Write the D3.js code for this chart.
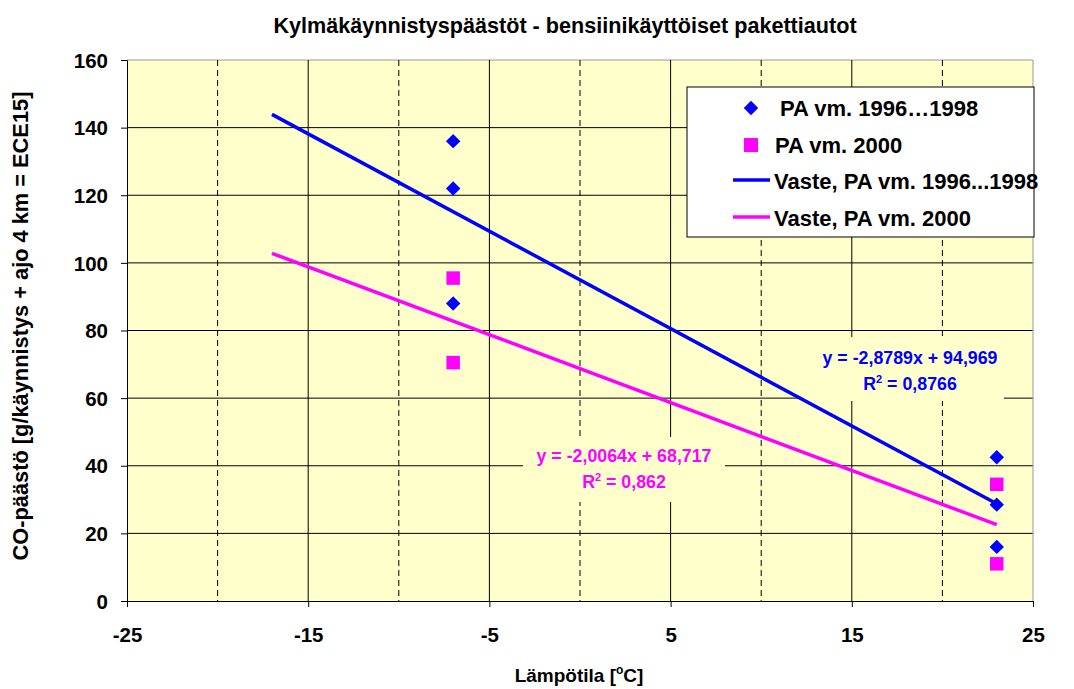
<!DOCTYPE html>
<html><head><meta charset="utf-8">
<script src="https://cdn.jsdelivr.net/npm/d3@7"></script>
<style>body{margin:0;background:#fff;} text{font-family:Arial,"Liberation Sans",sans-serif;font-weight:bold;}</style>
</head><body><svg id="c" width="1074" height="689"></svg>
<script>
const title = "Kylmäkäynnistyspäästöt - bensiinikäyttöiset pakettiautot";
const xTicks = [-25, -15, -5, 5, 15, 25];
const xMinor = [-20, -10, 0, 10, 20];
const yTicks = [0, 20, 40, 60, 80, 100, 120, 140, 160];
const seriesA_x = [-7, -7, -7, 23, 23, 23];
const seriesA_y = [136, 122, 88, 42.5, 28.5, 16];
const seriesB_x = [-7, -7, 23, 23];
const seriesB_y = [95.5, 70.5, 34.5, 11];
const fitA = {slope: -2.8789, intercept: 94.969, r2: "0,8766", eq: "y = -2,8789x + 94,969"};
const fitB = {slope: -2.0064, intercept: 68.717, r2: "0,862", eq: "y = -2,0064x + 68,717"};
const fitRange = [-17, 23];
const legendLabels = ["PA vm. 1996…1998", "PA vm. 2000", "Vaste, PA vm. 1996...1998", "Vaste, PA vm. 2000"];
const blue = "#0000FF", pink = "#FF00FF";

const svg = d3.select("#c");
const L = 127, R = 1033, T = 60, B = 601;
const x = d3.scaleLinear().domain([-25, 25]).range([L, R]);
const y = d3.scaleLinear().domain([0, 160]).range([B, T]);

svg.append("rect").attr("x", L).attr("y", T).attr("width", R - L).attr("height", B - T).attr("fill", "#FFFFCC");

// grid
svg.append("g").selectAll("line").data(yTicks.filter(d => d > 0)).join("line")
  .attr("x1", L).attr("x2", R).attr("y1", d => y(d)).attr("y2", d => y(d))
  .attr("stroke", d => d === 160 ? "#999" : "#000").attr("stroke-width", 1);
svg.append("g").selectAll("line").data(xTicks.filter(d => d > -25 && d < 25)).join("line")
  .attr("x1", d => x(d)).attr("x2", d => x(d)).attr("y1", T).attr("y2", B)
  .attr("stroke", "#000").attr("stroke-width", 1);
svg.append("g").selectAll("line").data(xMinor).join("line")
  .attr("x1", d => x(d)).attr("x2", d => x(d)).attr("y1", T).attr("y2", B)
  .attr("stroke", "#000").attr("stroke-width", 1).attr("stroke-dasharray", "6,4");
svg.append("line").attr("x1", R).attr("x2", R).attr("y1", T).attr("y2", B).attr("stroke", "#999");

// label boxes (hide grid)
function eqLabel(cx, base, box, fit, color) {
  svg.append("rect").attr("x", box[0]).attr("y", box[1]).attr("width", box[2]).attr("height", box[3]).attr("fill", "#FFFFCC");
  svg.append("text").attr("x", cx).attr("y", base).attr("text-anchor", "middle").attr("font-size", 17.8).attr("fill", color).text(fit.eq);
  const t = svg.append("text").attr("x", cx).attr("y", base + 26).attr("text-anchor", "middle").attr("font-size", 17.8).attr("fill", color);
  t.append("tspan").text("R");
  t.append("tspan").attr("dy", -7).attr("font-size", 11).text("2");
  t.append("tspan").attr("dy", 7).text(" = " + fit.r2);
}

// fit lines
function fitLine(fit, color) {
  svg.append("line")
    .attr("x1", x(fitRange[0])).attr("y1", y(fit.slope * fitRange[0] + fit.intercept))
    .attr("x2", x(fitRange[1])).attr("y2", y(fit.slope * fitRange[1] + fit.intercept))
    .attr("stroke", color).attr("stroke-width", 3.5);
}
eqLabel(910, 364, [800, 337, 204, 64], fitA, blue);
eqLabel(624, 462, [523, 437, 202, 65], fitB, pink);
fitLine(fitA, blue);
fitLine(fitB, pink);

// points
const diamond = d3.symbol().type(d3.symbolSquare).size(104);
svg.append("g").selectAll("path").data(seriesA_x.map((v, i) => [v, seriesA_y[i]])).join("path")
  .attr("d", diamond).attr("transform", d => `translate(${x(d[0])},${y(d[1])}) rotate(45)`).attr("fill", blue);
svg.append("g").selectAll("rect").data(seriesB_x.map((v, i) => [v, seriesB_y[i]])).join("rect")
  .attr("x", d => x(d[0]) - 6.75).attr("y", d => y(d[1]) - 6.75).attr("width", 13.5).attr("height", 13.5).attr("fill", pink);

// axes
const fmt = d => String(d);
const yAxis = svg.append("g").attr("transform", `translate(${L},0)`).call(d3.axisLeft(y).tickValues(yTicks).tickFormat(fmt).tickSize(6).tickPadding(13));
const xAxis = svg.append("g").attr("transform", `translate(0,${B})`).call(d3.axisBottom(x).tickValues(xTicks).tickFormat(fmt).tickSize(6).tickPadding(20));
[yAxis, xAxis].forEach(a => {
  a.selectAll("text").attr("font-size", 20.5).attr("fill", "#000").attr("font-family", "Arial,'Liberation Sans',sans-serif").attr("font-weight", "bold");
  a.selectAll("line,path").attr("stroke", "#000");
});
yAxis.selectAll("text").attr("dy", "0.35em");

// title
svg.append("text").attr("x", 565).attr("y", 33).attr("text-anchor", "middle").attr("font-size", 21.6).text(title);

// axis labels
svg.append("text").attr("transform", "translate(28,326) rotate(-90)").attr("text-anchor", "middle").attr("font-size", 21.8).text("CO-päästö [g/käynnistys + ajo 4 km = ECE15]");
const xl = svg.append("text").attr("x", 579).attr("y", 682).attr("text-anchor", "middle").attr("font-size", 19);
xl.append("tspan").text("Lämpötila [");
xl.append("tspan").attr("dy", -8).attr("font-size", 12).text("o");
xl.append("tspan").attr("dy", 8).text("C]");

// legend
const lg = svg.append("g");
lg.append("rect").attr("x", 687).attr("y", 87).attr("width", 347).attr("height", 150).attr("fill", "#fff").attr("stroke", "#000");
const ly = [108, 145, 181, 218];
lg.append("path").attr("d", diamond).attr("transform", `translate(751,${ly[0]}) rotate(45)`).attr("fill", blue);
lg.append("rect").attr("x", 744).attr("y", ly[1] - 7).attr("width", 14).attr("height", 14).attr("fill", pink);
lg.append("line").attr("x1", 733).attr("x2", 770).attr("y1", ly[2] - 1).attr("y2", ly[2] - 1).attr("stroke", blue).attr("stroke-width", 3.5);
lg.append("line").attr("x1", 733).attr("x2", 770).attr("y1", ly[3] - 1).attr("y2", ly[3] - 1).attr("stroke", pink).attr("stroke-width", 3.5);
const lx = [780, 775, 774, 774];
legendLabels.forEach((t, i) => {
  lg.append("text").attr("x", lx[i]).attr("y", ly[i]).attr("dy", "0.35em").attr("font-size", 22).text(t);
});
</script></body></html>
